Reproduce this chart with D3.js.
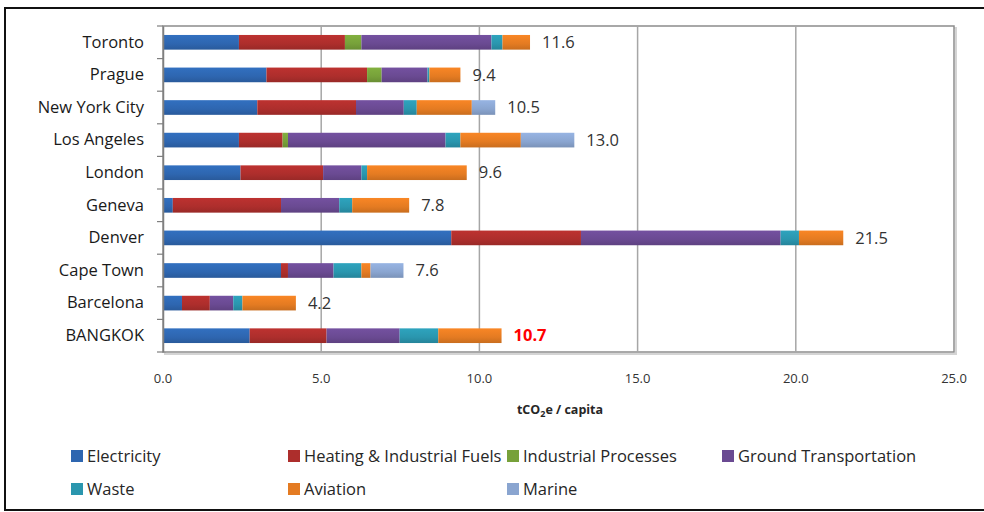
<!DOCTYPE html>
<html>
<head>
<meta charset="utf-8">
<script src="https://cdn.jsdelivr.net/npm/d3@7"></script>
<style>
  body { margin: 0; background: #fff; }
  text { font-family: "Open Sans", sans-serif; fill: #262626; }
</style>
</head>
<body>
<div id="chart"></div>
<script>
// city rows, top to bottom
var cities = ["Toronto", "Prague", "New York City", "Los Angeles", "London", "Geneva", "Denver", "Cape Town", "Barcelona", "BANGKOK"];
var sectors = ["Electricity", "Heating & Industrial Fuels", "Industrial Processes", "Ground Transportation", "Waste", "Aviation", "Marine"];
var colors = ["#2e66b0", "#ad2e2c", "#77a13a", "#6a4a92", "#2a96ae", "#e47b22", "#8aa5d0"];

// tCO2e per capita by sector
var electricity = [2.40, 3.27, 2.98, 2.40, 2.45, 0.31, 9.11, 3.73, 0.60, 2.74];
var heating     = [3.35, 3.18, 3.12, 1.38, 2.61, 3.42, 4.10, 0.22, 0.88, 2.43];
var industrial  = [0.52, 0.46, 0.00, 0.17, 0.00, 0.00, 0.00, 0.00, 0.00, 0.00];
var ground      = [4.11, 1.45, 1.51, 4.98, 1.21, 1.84, 6.31, 1.44, 0.74, 2.31];
var waste       = [0.35, 0.06, 0.41, 0.47, 0.18, 0.41, 0.58, 0.88, 0.29, 1.22];
var aviation    = [0.87, 0.98, 1.74, 1.91, 3.15, 1.80, 1.40, 0.29, 1.69, 2.00];
var marine      = [0.00, 0.00, 0.74, 1.69, 0.00, 0.00, 0.00, 1.04, 0.00, 0.00];
var totals      = ["11.6", "9.4", "10.5", "13.0", "9.6", "7.8", "21.5", "7.6", "4.2", "10.7"];
var xticks = [0, 5, 10, 15, 20, 25];

function drawchart() {
  var w = 984;
  var h = 512;

  var svg = d3.select("#chart")
              .append("svg")
              .attr("width", w)
              .attr("height", h);

  // outer frame
  svg.append("rect")
     .attr("x", 5).attr("y", 8)
     .attr("width", 990).attr("height", 502)
     .attr("fill", "none")
     .attr("stroke", "#111")
     .attr("stroke-width", 2);

  var x = d3.scaleLinear().domain([0, 25]).range([163, 954]);
  var y = d3.scaleBand().domain(cities).range([26, 352]).paddingInner(0.55).paddingOuter(0.275);

  // gradients for bar fills
  var defs = svg.append("defs");
  colors.forEach(function(c, i) {
    var g = defs.append("linearGradient")
                .attr("id", "grad" + i)
                .attr("x1", 0).attr("y1", 0).attr("x2", 0).attr("y2", 1);
    g.append("stop").attr("offset", "0%").attr("stop-color", d3.color(c).brighter(0.25));
    g.append("stop").attr("offset", "60%").attr("stop-color", c);
    g.append("stop").attr("offset", "100%").attr("stop-color", d3.color(c).darker(0.35));
  });

  // plot area box with shadow
  svg.append("rect")
     .attr("x", x(0) + 2).attr("y", y.range()[0] + 2)
     .attr("width", x(25) - x(0)).attr("height", 352 - 26)
     .attr("fill", "none").attr("stroke", "#d4d4d4").attr("stroke-width", 2);
  svg.append("rect")
     .attr("x", x(0)).attr("y", 26)
     .attr("width", x(25) - x(0)).attr("height", 352 - 26)
     .attr("fill", "#fff").attr("stroke", "#8c8c8c").attr("stroke-width", 1.5);

  // gridlines
  svg.selectAll(".grid")
     .data(xticks.slice(1, -1))
     .enter().append("line")
     .attr("x1", function(d) { return x(d); })
     .attr("x2", function(d) { return x(d); })
     .attr("y1", 26).attr("y2", 352)
     .attr("stroke", "#a6a6a6").attr("stroke-width", 1.5);

  // stacked bars
  var table = cities.map(function(c, i) {
    return { city: c, values: [electricity[i], heating[i], industrial[i], ground[i], waste[i], aviation[i], marine[i]] };
  });

  table.forEach(function(row) {
    var acc = 0;
    var segs = row.values.map(function(v, k) {
      var s = { x0: acc, x1: acc + v, k: k };
      acc += v;
      return s;
    }).filter(function(s) { return s.x1 > s.x0; });

    svg.selectAll(".seg" + cities.indexOf(row.city))
       .data(segs)
       .enter().append("rect")
       .attr("x", function(d) { return x(d.x0); })
       .attr("y", y(row.city))
       .attr("width", function(d) { return x(d.x1) - x(d.x0); })
       .attr("height", y.bandwidth())
       .attr("fill", function(d) { return "url(#grad" + d.k + ")"; });

    row.end = acc;
  });

  // total labels
  svg.selectAll(".total")
     .data(table)
     .enter().append("text")
     .attr("x", function(d) { return x(d.end) + 12; })
     .attr("y", function(d) { return y(d.city) + y.bandwidth() / 2; })
     .attr("dy", "0.35em")
     .style("font-size", "16.5px")
     .style("fill", function(d) { return d.city == "BANGKOK" ? "#ff0000" : "#333"; })
     .style("font-weight", function(d) { return d.city == "BANGKOK" ? "bold" : "normal"; })
     .text(function(d, i) { return totals[i]; });

  // y axis
  var yAxis = svg.append("g")
                 .attr("transform", "translate(" + x(0) + ",0)")
                 .call(d3.axisLeft(y).tickSize(0).tickPadding(19));
  yAxis.select(".domain").attr("stroke", "#7f7f7f").attr("stroke-width", 1.5);
  yAxis.selectAll("text").style("font-size", "16.5px").style("fill", "#1a1a1a");

  var bounds = cities.map(function(c) { return y(c) - y.step() * 0.275; }).concat([352]);
  svg.selectAll(".ytick")
     .data(bounds)
     .enter().append("line")
     .attr("x1", x(0) - 6).attr("x2", x(0))
     .attr("y1", function(d) { return d; }).attr("y2", function(d) { return d; })
     .attr("stroke", "#7f7f7f").attr("stroke-width", 1.2);

  // x axis labels
  svg.selectAll(".xlab")
     .data(xticks)
     .enter().append("text")
     .attr("x", function(d) { return x(d); })
     .attr("y", 383)
     .attr("text-anchor", "middle")
     .style("font-size", "13px")
     .style("fill", "#333")
     .text(function(d) { return d.toFixed(1); });

  var title = svg.append("text")
                 .attr("x", 560).attr("y", 414)
                 .attr("text-anchor", "middle")
                 .style("font-size", "12.5px")
                 .style("font-weight", "bold");
  title.append("tspan").text("tCO");
  title.append("tspan").attr("dy", 3).style("font-size", "9px").text("2");
  title.append("tspan").attr("dy", -3).text("e / capita");

  // legend
  var legx = [71, 288, 507, 722];
  var legy = [456, 489];
  var leg = svg.selectAll(".legend")
               .data(sectors)
               .enter().append("g")
               .attr("transform", function(d, i) {
                 var col = i < 4 ? i : i - 4;
                 return "translate(" + legx[col] + "," + legy[i < 4 ? 0 : 1] + ")";
               });
  leg.append("rect")
     .attr("x", 0).attr("y", -6)
     .attr("width", 12).attr("height", 12)
     .attr("fill", function(d, i) { return colors[i]; });
  leg.append("text")
     .attr("x", 16).attr("dy", "0.35em")
     .style("font-size", "16.5px")
     .text(function(d) { return d; });
}

window.onload = drawchart;
</script>
</body>
</html>
